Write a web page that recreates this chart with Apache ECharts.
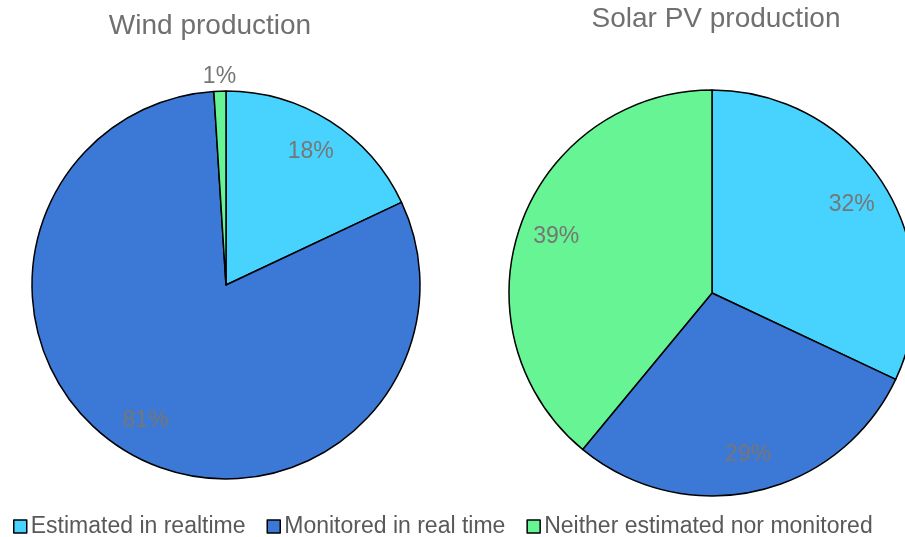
<!DOCTYPE html>
<html>
<head>
<meta charset="utf-8">
<script src="https://cdn.jsdelivr.net/npm/echarts@6/dist/echarts.min.js"></script>
<style>
html, body { margin: 0; padding: 0; background: #fff; }
#chart { width: 905px; height: 537px; }
</style>
</head>
<body>
<div id="chart"></div>
<script>
var categories = ['Estimated in realtime', 'Monitored in real time', 'Neither estimated nor monitored'];
var windValues = [18, 81, 1];
var solarValues = [32, 29, 39];
var colors = ['#47D3FE', '#3C78D5', '#67F494'];

var chart = echarts.init(document.getElementById('chart'));

function pieData(values) {
    return values.map(function (v, i) {
        return { name: categories[i], value: v, itemStyle: { color: colors[i] } };
    });
}

// transparent ring, used only to put the labels where the original has them
function labelData(values, showFn) {
    return values.map(function (v, i) {
        return {
            name: categories[i], value: v,
            itemStyle: { color: 'rgba(0,0,0,0)', borderWidth: 0 },
            label: { show: showFn(i) }
        };
    });
}

var labelStyle = {
    position: 'inside',
    formatter: '{c}%',
    color: '#767676',
    fontSize: 23,
    fontFamily: 'Liberation Sans, Arial'
};

var titleFont = { color: '#707070', fontSize: 28, fontWeight: 'normal', fontFamily: 'Liberation Sans, Arial' };

var option = {
    color: colors,
    animation: false,
    title: [
        { text: 'Wind production', left: 205, top: 7, textAlign: 'center', textStyle: titleFont },
        { text: 'Solar PV production', left: 711, top: 0, textAlign: 'center', textStyle: titleFont }
    ],
    legend: {
        data: categories,
        left: 8, top: 510,
        itemWidth: 13, itemHeight: 13, itemGap: 21,
        icon: 'rect',
        itemStyle: { borderColor: '#000', borderWidth: 1.5 },
        textStyle: { color: '#595959', fontSize: 23, fontFamily: 'Liberation Sans, Arial', padding: [0, 0, 0, -1] }
    },
    series: [
        {
            type: 'pie', silent: true,
            center: [226, 285], radius: [0, 194],
            startAngle: 90, clockwise: true,
            itemStyle: { borderColor: '#000', borderWidth: 1.5 },
            label: { show: false }, labelLine: { show: false },
            data: pieData(windValues)
        },
        {
            type: 'pie', silent: true,
            center: [712, 293], radius: [0, 203],
            startAngle: 90, clockwise: true,
            itemStyle: { borderColor: '#000', borderWidth: 1.5 },
            label: { show: false }, labelLine: { show: false },
            data: pieData(solarValues)
        },
        {
            type: 'pie', silent: true,
            center: [226, 285], radius: [120, 190],
            startAngle: 90, clockwise: true,
            label: labelStyle, labelLine: { show: false },
            data: labelData(windValues, function (i) { return i !== 2; })
        },
        {
            type: 'pie', silent: true,
            center: [226, 285], radius: [194, 216],
            startAngle: 90, clockwise: true,
            label: labelStyle, labelLine: { show: false },
            data: labelData(windValues, function (i) { return i === 2; })
        },
        {
            type: 'pie', silent: true,
            center: [712, 293], radius: [130, 195],
            startAngle: 90, clockwise: true,
            label: labelStyle, labelLine: { show: false },
            data: labelData(solarValues, function () { return true; })
        }
    ]
};

chart.setOption(option);
</script>
</body>
</html>
